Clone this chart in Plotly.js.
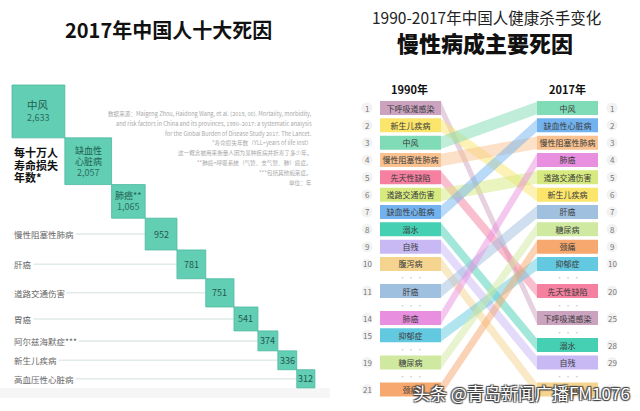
<!DOCTYPE html>
<html><head><meta charset="utf-8">
<script src="https://cdn.plot.ly/plotly-3.0.1.min.js"></script>
<style>html,body{margin:0;padding:0;background:#fff}#c{width:640px;height:411px}</style>
</head><body><div id="c"></div>
<script>
// ---------- data ----------
const causes2017 = ['中风','缺血性心脏病','肺癌**','慢性阻塞性肺病','肝癌','道路交通伤害','胃癌','阿尔兹海默症***','新生儿疾病','高血压性心脏病'];
const yll2017 = [2633,2057,1065,952,781,751,541,374,336,312];
const insideNames = ['中风','缺血性<br>心脏病','肺癌**'];

const bumpCauses = ['下呼吸道感染','新生儿疾病','中风','慢性阻塞性肺病','先天性缺陷','道路交通伤害','缺血性心脏病','溺水','自残','腹泻病','肝癌','肺癌','抑郁症','糖尿病','颈痛'];
const rank1990 = [1,2,3,4,5,6,7,8,9,10,11,14,15,19,21];
const rank2017 = [25,6,1,3,20,5,2,28,29,36,7,4,10,8,9];

const notes = [
 '数据来源：Maigeng Zhou, Haidong Wang, et al. (2019, 06). Mortality, morbidity,',
 'and risk factors in China and its provinces, 1990–2017: a systematic analysis',
 'for the Global Burden of Disease Study 2017. The Lancet.',
 '*寿命损失年数（YLL=years of life lost）',
 '这一概念被用来衡量人因为某种疾病并折寿了多少年。',
 '**肺癌=呼吸系统（气管、支气管、肺）癌症。',
 '***包括其他痴呆症。',
 '单位：年'
];

// ---------- style ----------
const bumpColors = ['#cba3bf','#fbe56b','#80dcb6','#f9c290','#f5809f','#d6ea80','#72b3ef','#45d0b3','#c8b8f4','#f5d48f','#a0c0e0','#e98fe0','#62c9e0','#cfe9a0','#f6a86e'];
const F = '"Noto Sans CJK SC", "Noto Sans", sans-serif';
const W = 640, H = 411;
const px = x => x / W, py = y => 1 - y / H;

const K = 1.03, LX0 = 12, LY0 = 85;
const ROW = 17.33, RY0 = 108, GAP = 0.56, BOXH = 14;
const LBX = 380, RBX = 537, BW = 61;

const traces = [], shapes = [], ann = [];
function A(o) { ann.push(Object.assign({showarrow: false, xanchor: 'center', yanchor: 'middle'}, o)); }
function P(x, y, text, font, extra) { A(Object.assign({xref: 'paper', yref: 'paper', x: px(x), y: py(y), text, font}, extra || {})); }

// ---------- left: staircase squares ----------
const sides = yll2017.map(v => Math.sqrt(v));
const cum = []; let c = 0;
sides.forEach(s => { cum.push(c); c += s; });

traces.push({
  type: 'bar', xaxis: 'x', yaxis: 'y',
  x: sides.map((s, i) => cum[i] + s / 2), width: sides,
  base: cum, y: sides,
  marker: {color: '#62ceb4', line: {color: '#4cb99f', width: 0.8}},
  hoverinfo: 'skip'
});

sides.forEach((s, i) => {
  const cx = cum[i] + s / 2, cy = cum[i] + s / 2;
  const val = yll2017[i].toLocaleString('en-US');
  if (i < insideNames.length) {
    const parts = insideNames[i].split('<br>');
    const nl = parts.length;
    const fs = i === 0 ? 10.5 : 9;
    const lh = i === 0 ? 13 : 11;
    const total = (nl + 1) * lh;
    const top = cy * K - total / 2 + lh / 2;
    parts.forEach((t, j) => {
      A({xref: 'x', yref: 'y', x: cx, y: (top + j * lh) / K, text: t, font: {family: F, size: fs, color: '#1f5f52'}});
    });
    A({xref: 'x', yref: 'y', x: cx, y: (top + nl * lh) / K, text: val, font: {family: F, size: 9, color: '#2b6e60'}});
  } else {
    A({xref: 'x', yref: 'y', x: cx, y: cy, text: val, font: {family: F, size: 9, color: '#24574d'}});
    shapes.push({type: 'line', xref: 'x', yref: 'y', x0: 0, x1: cum[i], y0: cy, y1: cy,
      line: {color: '#e1ebe8', width: 1.5}, layer: 'below'});
    A({xref: 'x', yref: 'y', x: 0, y: cy, xanchor: 'left', text: causes2017[i],
      bgcolor: '#ffffff', borderpad: 1, font: {family: F, size: 8.5, color: '#666'}});
  }
});

['每十万人','寿命损失','年数*'].forEach((t, j) => {
  P(12, 152 + j * 12.5, t, {family: F, size: 11, color: '#111', weight: 700}, {xanchor: 'left'});
});
notes.forEach((t, j) => {
  P(314, 114 + j * 9.8, t, {family: F, size: 5.6, color: '#a8a8a8'}, {xanchor: 'right'});
});
P(168, 29, '2017年中国人十大死因', {family: F, size: 20, color: '#111', weight: 700});
shapes.push({type: 'rect', xref: 'paper', yref: 'paper', x0: 0, x1: px(330), y0: py(398), y1: py(388),
  fillcolor: '#f6f6f6', line: {width: 0}, layer: 'below'});

// ---------- right: bump chart ----------
function slots(ranks) {
  const order = ranks.map((r, i) => i).sort((a, b) => ranks[a] - ranks[b]);
  const pos = {}, dots = [];
  let p = 0, prev = null;
  order.forEach(i => {
    const r = ranks[i];
    if (prev !== null) {
      let step = 1;
      if (r > 10 && (prev <= 10 || r - prev > 1)) { step = 1 + GAP; dots.push(p + step / 2); }
      p += step;
    }
    pos[i] = p; prev = r;
  });
  return {pos, dots};
}
const L = slots(rank1990), R = slots(rank2017);
const hh = 0.36;

bumpCauses.forEach((name, i) => {
  const a = L.pos[i], b = R.pos[i];
  const col = bumpColors[i];
  const r = parseInt(col.slice(1,3),16), g = parseInt(col.slice(3,5),16), bl = parseInt(col.slice(5,7),16);
  traces.push({type: 'scatter', mode: 'lines', xaxis: 'x2', yaxis: 'y2',
    x: [LBX + BW, RBX, RBX, LBX + BW, LBX + BW], y: [a - hh, b - hh, b + hh, a + hh, a - hh],
    fill: 'toself', fillcolor: `rgba(${r},${g},${bl},0.5)`, line: {width: 0}, hoverinfo: 'skip'});
});

const idx = bumpCauses.map((_, i) => i);
[[L, LBX], [R, RBX]].forEach(([S, bx]) => {
  traces.push({type: 'bar', orientation: 'h', xaxis: 'x2', yaxis: 'y2',
    y: idx.map(i => S.pos[i]), x: idx.map(() => BW), base: bx, width: BOXH / ROW,
    marker: {color: bumpColors, line: {width: 0}},
    text: bumpCauses, textposition: 'inside', insidetextanchor: 'middle', constraintext: 'none', textangle: 0,
    textfont: {family: F, size: 8, color: '#3a3a3a'}, hoverinfo: 'skip'});
});
// rank number discs
traces.push({type: 'scatter', mode: 'markers', xaxis: 'x2', yaxis: 'y2',
  x: idx.map(() => 367).concat(idx.map(() => 612)),
  y: idx.map(i => L.pos[i]).concat(idx.map(i => R.pos[i])),
  marker: {size: 11, color: '#f2f2f2', line: {width: 0}}, hoverinfo: 'skip'});

idx.forEach(i => {
  A({xref: 'x2', yref: 'y2', x: 367, y: L.pos[i], text: String(rank1990[i]), font: {family: F, size: 8, color: '#777'}});
  A({xref: 'x2', yref: 'y2', x: 612, y: R.pos[i], text: String(rank2017[i]), font: {family: F, size: 8, color: '#777'}});
});
L.dots.forEach(d => A({xref: 'x2', yref: 'y2', x: LBX + BW / 2, y: d, text: '· · ·', font: {family: F, size: 7, color: '#c8c8c8'}}));
R.dots.forEach(d => A({xref: 'x2', yref: 'y2', x: RBX + BW / 2, y: d, text: '· · ·', font: {family: F, size: 7, color: '#c8c8c8'}}));

P(409, 89, '1990年', {family: F, size: 11, color: '#111', weight: 700});
P(567, 89, '2017年', {family: F, size: 11, color: '#111', weight: 700});
P(486, 17, '1990-2017年中国人健康杀手变化', {family: F, size: 15.5, color: '#222'});
P(485, 42, '慢性病成主要死因', {family: F, size: 22, color: '#111', weight: 900});

P(411, 392, '头条 @青岛新闻广播FM1076', {family: F, size: 17, color: '#ffffff',
  shadow: '1px 1px 1px #444, -1px -1px 1px #444, 1px -1px 1px #444, -1px 1px 1px #444'}, {xanchor: 'left'});

const ax = {visible: false, showgrid: false, zeroline: false, fixedrange: true};
const layout = {
  width: W, height: H, margin: {l: 0, r: 0, t: 0, b: 0},
  paper_bgcolor: '#ffffff', plot_bgcolor: 'rgba(0,0,0,0)',
  showlegend: false, barmode: 'overlay',
  xaxis: Object.assign({}, ax, {domain: [0, 330 / W], range: [-LX0 / K, (330 - LX0) / K], anchor: 'y'}),
  yaxis: Object.assign({}, ax, {domain: [0, 1], range: [(H - LY0) / K, -LY0 / K], anchor: 'x'}),
  xaxis2: Object.assign({}, ax, {domain: [330 / W, 1], range: [330, 640], anchor: 'y2'}),
  yaxis2: Object.assign({}, ax, {domain: [0, 1], range: [(H - RY0) / ROW, -RY0 / ROW], anchor: 'x2'}),
  shapes: shapes, annotations: ann
};
Plotly.newPlot('c', traces, layout, {staticPlot: true, displayModeBar: false});
</script></body></html>
